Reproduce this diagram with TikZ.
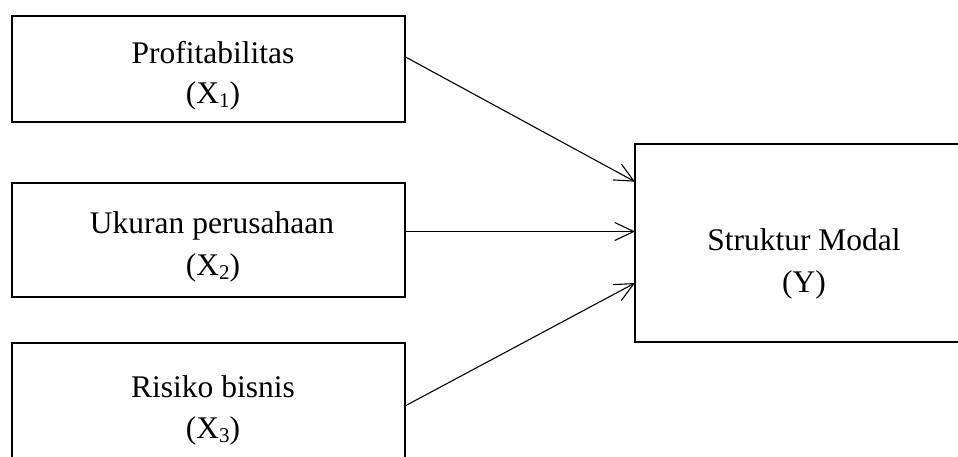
\documentclass[tikz,border=0pt]{standalone}
\usepackage{fontspec}
\setmainfont{Liberation Serif}
\usetikzlibrary{arrows.meta}
\newcommand\mysub[1]{\raisebox{-0.13em}{\fontsize{21}{21}\selectfont #1}}
\begin{document}
\begin{tikzpicture}[x=1pt,y=-1pt]
\tikzset{
  box/.style={draw, line width=1.2pt, inner sep=0pt, outer sep=0pt},
  lbl/.style={anchor=base, inner sep=0pt, font=\fontsize{31.5}{31.5}\selectfont},
  arr/.style={line width=1.1pt, -{Straight Barb[length=19pt,width=18pt,line width=1.1pt]}}
}
\clip (0,0) rectangle (958,457);
\useasboundingbox (0,0) rectangle (958,457);
% boxes
\node[box, minimum width=393pt, minimum height=106pt] (b1) at (208.5,69) {};
\node[box, minimum width=393pt, minimum height=114pt] (b2) at (208.5,240) {};
\node[box, minimum width=393pt, minimum height=117pt] (b3) at (208.5,401.5) {};
\node[box, minimum width=338pt, minimum height=198pt] (y) at (804,243) {};
% labels
\node[lbl] (t1a) at (213,63.5) {Profitabilitas};
\node[lbl] (t1b) at (213,103.5) {(X\mysub{1})};
\node[lbl] (t2a) at (212,233.3) {Ukuran perusahaan};
\node[lbl] (t2b) at (213,275) {(X\mysub{2})};
\node[lbl] (t3a) at (213,397) {Risiko bisnis};
\node[lbl] (t3b) at (213,438) {(X\mysub{3})};
\node[lbl] (tya) at (804,250) {Struktur Modal};
\node[lbl] (tyb) at (804,292.7) {(Y)};
% arrows
\draw[arr] ([yshift=-40.7pt]b1.north east) -- ([yshift=-37.7pt]y.north west);
\draw[arr] ([yshift=-48.5pt]b2.north east) -- ([yshift=-87.5pt]y.north west);
\draw[arr] ([yshift=-63pt]b3.north east) -- ([yshift=-139pt]y.north west);
\end{tikzpicture}
\end{document}
